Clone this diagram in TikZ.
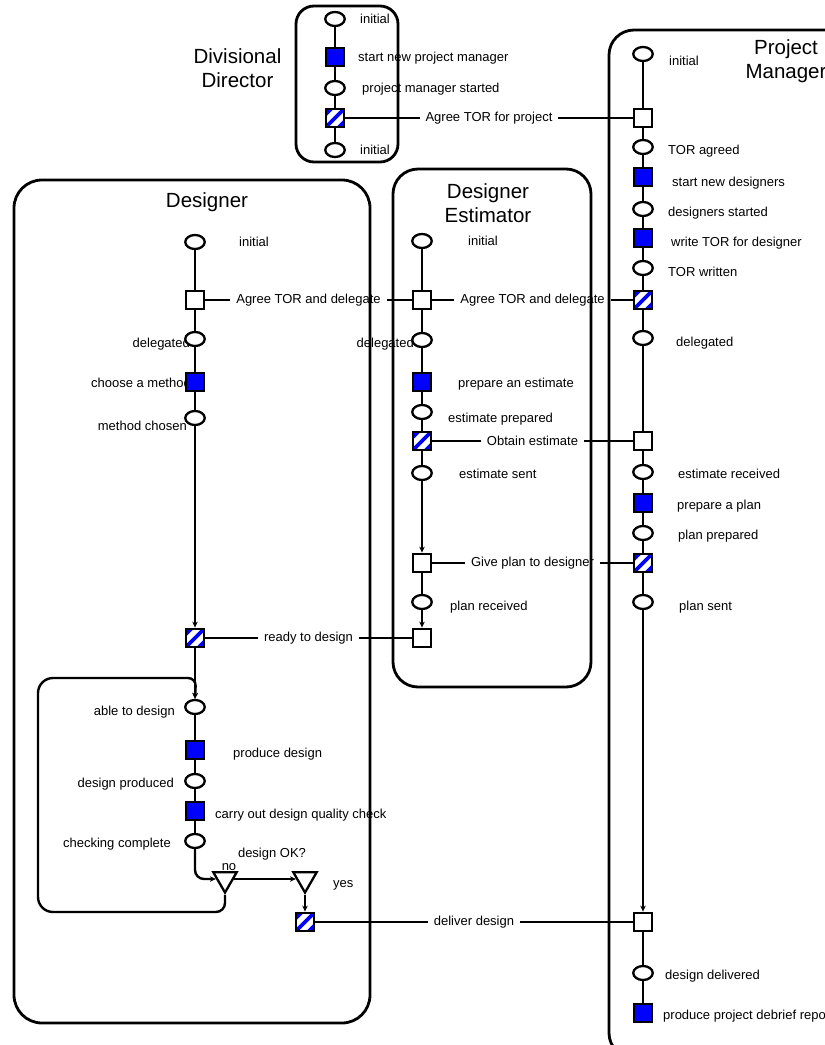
\documentclass[tikz,border=0pt]{standalone}
\usepackage{fontspec}
\setmainfont{Liberation Sans}
\usetikzlibrary{arrows.meta,shapes.geometric}
\begin{document}
\begin{tikzpicture}[x=1pt,y=-1pt,
  conn/.style={line width=2.4pt},
  arr/.style={conn,-{Stealth[length=6pt,width=5.5pt]}},
  st/.style={ellipse, draw, line width=2.3pt, fill=white, minimum width=19.5pt, minimum height=14pt, inner sep=0pt},
  act/.style={rectangle, draw, line width=2.3pt, fill=blue, minimum size=18.5pt, inner sep=0pt},
  syn/.style={rectangle, draw, line width=2.3pt, fill=white, minimum size=18.5pt, inner sep=0pt},
  hat/.style={syn, path picture={
     \foreach \o in {-13,0,13}
       \draw[blue, line width=3.8pt] ([xshift=\o pt]path picture bounding box.south west) -- ([xshift=\o pt]path picture bounding box.north east);}},
  tri/.style={regular polygon, regular polygon sides=3, shape border rotate=180, draw, line width=2.3pt, fill=white, minimum size=27pt, inner sep=0pt},
  lbl/.style={font=\fontsize{13}{15}\selectfont, inner sep=0pt},
  clbl/.style={font=\fontsize{13}{15}\selectfont, fill=white, inner xsep=6pt, inner ysep=1pt},
  ttl/.style={font=\fontsize{20.5}{23.5}\selectfont, align=center},
  lane/.style={draw, line width=2.8pt, rounded corners=25pt}]
\useasboundingbox (0,0) rectangle (825,1045);
\clip (0,0) rectangle (825,1045);
\fill[white] (0,0) rectangle (825,1045);

% ---------- state / action labels ----------
% Divisional Director
\node[lbl, anchor=base west] (tdd1) at (360,23) {initial};
\node[lbl, anchor=base west] (tdd2) at (358,61) {start new project manager};
\node[lbl, anchor=base west] (tdd3) at (362,92) {project manager started};
\node[lbl, anchor=base west] (tdd5) at (360,154) {initial};
% Project Manager
\node[lbl, anchor=base west] (tpm1) at (669,65) {initial};
\node[lbl, anchor=base west] (tpm3) at (668,154) {TOR agreed};
\node[lbl, anchor=base west] (tpm4) at (672,186) {start new designers};
\node[lbl, anchor=base west] (tpm5) at (668,216) {designers started};
\node[lbl, anchor=base west] (tpm6) at (671,246) {write TOR for designer};
\node[lbl, anchor=base west] (tpm7) at (668,276) {TOR written};
\node[lbl, anchor=base west] (tpm9) at (676,346) {delegated};
\node[lbl, anchor=base west] (tpm11) at (678,478) {estimate received};
\node[lbl, anchor=base west] (tpm12) at (677,509) {prepare a plan};
\node[lbl, anchor=base west] (tpm13) at (678,539) {plan prepared};
\node[lbl, anchor=base west] (tpm15) at (679,610) {plan sent};
\node[lbl, anchor=base west] (tpm17) at (665,979) {design delivered};
\node[lbl, anchor=base west] (tpm18) at (663,1019) {produce project debrief report};
% Designer Estimator
\node[lbl, anchor=base west] (tde1) at (468,245) {initial};
\node[lbl, anchor=base east] (tde3) at (414,347) {delegated};
\node[lbl, anchor=base west] (tde4) at (458,387) {prepare an estimate};
\node[lbl, anchor=base west] (tde5) at (448,422) {estimate prepared};
\node[lbl, anchor=base west] (tde7) at (459,478) {estimate sent};
\node[lbl, anchor=base west] (tde9) at (450,610) {plan received};
% Designer
\node[lbl, anchor=base west] (td1) at (239,246) {initial};
\node[lbl, anchor=base east] (td3) at (190,347) {delegated};
\node[lbl, anchor=base east] (td4) at (191,387) {choose a method};
\node[lbl, anchor=base east] (td5) at (187,430) {method chosen};
\node[lbl, anchor=base east] (td7) at (175,715) {able to design};
\node[lbl, anchor=base west] (td8) at (233,757) {produce design};
\node[lbl, anchor=base east] (td9) at (174,787) {design produced};
\node[lbl, anchor=base west] (td10) at (215,818) {carry out design quality check};
\node[lbl, anchor=base east] (td11) at (171,847) {checking complete};
\node[lbl, anchor=base] (tno) at (229,870) {no};
\node[lbl, anchor=base] (tok) at (272,857) {design OK?};
\node[lbl, anchor=base west] (tyes) at (333,887) {yes};

% ---------- nodes ----------
% Divisional Director
\node[st]  (dd1) at (335,19) {};
\node[act] (dd2) at (335,57) {};
\node[st]  (dd3) at (335,88) {};
\node[hat] (dd4) at (335,118) {};
\node[st]  (dd5) at (335,150) {};
% Project Manager
\node[st]  (pm1) at (643,54) {};
\node[syn] (pm2) at (643,118) {};
\node[st]  (pm3) at (643,147) {};
\node[act] (pm4) at (643,177) {};
\node[st]  (pm5) at (643,209) {};
\node[act] (pm6) at (643,238) {};
\node[st]  (pm7) at (643,268) {};
\node[hat] (pm8) at (643,300) {};
\node[st]  (pm9) at (643,338) {};
\node[syn] (pm10) at (643,441) {};
\node[st]  (pm11) at (643,472) {};
\node[act] (pm12) at (643,503) {};
\node[st]  (pm13) at (643,533) {};
\node[hat] (pm14) at (643,563) {};
\node[st]  (pm15) at (643,602) {};
\node[syn] (pm16) at (643,922) {};
\node[st]  (pm17) at (643,973) {};
\node[act] (pm18) at (643,1013) {};
% Designer Estimator
\node[st]  (de1) at (422,241) {};
\node[syn] (de2) at (422,300) {};
\node[st]  (de3) at (422,340) {};
\node[act] (de4) at (422,382) {};
\node[st]  (de5) at (422,412) {};
\node[hat] (de6) at (422,441) {};
\node[st]  (de7) at (422,473) {};
\node[syn] (de8) at (422,563) {};
\node[st]  (de9) at (422,602) {};
\node[syn] (de10) at (422,638) {};
% Designer
\node[st]  (d1) at (195,242) {};
\node[syn] (d2) at (195,300) {};
\node[st]  (d3) at (195,339) {};
\node[act] (d4) at (195,382) {};
\node[st]  (d5) at (195,418) {};
\node[hat] (d6) at (195,638) {};
\node[st]  (d7) at (195,707) {};
\node[act] (d8) at (195,750) {};
\node[st]  (d9) at (195,781) {};
\node[act] (d10) at (195,811) {};
\node[st]  (d11) at (195,841) {};
\node[tri] (no) at (225,879) {};
\node[tri] (yes) at (305,879) {};
\node[hat] (d12) at (305,922) {};

% ---------- connectors ----------
\draw[conn] (dd1) -- (dd2); \draw[conn] (dd2) -- (dd3);
\draw[conn] (dd3) -- (dd4); \draw[conn] (dd4) -- (dd5);
\draw[conn] (pm1) -- (pm2); \draw[conn] (pm2) -- (pm3);
\draw[conn] (pm3) -- (pm4); \draw[conn] (pm4) -- (pm5);
\draw[conn] (pm5) -- (pm6); \draw[conn] (pm6) -- (pm7);
\draw[conn] (pm7) -- (pm8); \draw[conn] (pm8) -- (pm9);
\draw[conn] (pm9) -- (pm10); \draw[conn] (pm10) -- (pm11);
\draw[conn] (pm11) -- (pm12); \draw[conn] (pm12) -- (pm13);
\draw[conn] (pm13) -- (pm14); \draw[conn] (pm14) -- (pm15);
\draw[arr] (pm15) -- (pm16);
\draw[conn] (pm16) -- (pm17); \draw[conn] (pm17) -- (pm18);
\draw[conn] (de1) -- (de2); \draw[conn] (de2) -- (de3);
\draw[conn] (de3) -- (de4); \draw[conn] (de4) -- (de5);
\draw[conn] (de5) -- (de6); \draw[conn] (de6) -- (de7);
\draw[arr] (de7) -- (de8);
\draw[conn] (de8) -- (de9);
\draw[arr] (de9) -- (de10);
\draw[conn] (d1) -- (d2); \draw[conn] (d2) -- (d3);
\draw[conn] (d3) -- (d4); \draw[conn] (d4) -- (d5);
\draw[arr] (d5) -- (d6);
\draw[arr] (d6) -- (d7);
\draw[conn] (d7) -- (d8); \draw[conn] (d8) -- (d9);
\draw[conn] (d9) -- (d10); \draw[conn] (d10) -- (d11);
\draw[arr, rounded corners=9pt] (d11.south) |- (no.west);
\draw[arr] (no.east) -- (yes.west);
\draw[arr] (yes.south) -- (d12.north);
\draw[arr, rounded corners=9pt] (no.south) -- (225,912) [rounded corners=15pt] -- (38,912) -- (38,678) [rounded corners=8pt] -- (196,678) -- (d7.north);

% horizontal interactions
\draw[conn] (dd4) -- node[clbl] (cl1) {Agree TOR for project} (pm2);
\draw[conn] (d2) -- node[clbl] (cl2) {Agree TOR and delegate} (de2);
\draw[conn] (de2) -- node[clbl] (cl3) {Agree TOR and delegate} (pm8);
\draw[conn] (de6) -- node[clbl] (cl4) {Obtain estimate} (pm10);
\draw[conn] (de8) -- node[clbl] (cl5) {Give plan to designer} (pm14);
\draw[conn] (d6) -- node[clbl] (cl6) {ready to design} (de10);
\draw[conn] (d12) -- node[clbl] (cl7) {deliver design} (pm16);

% ---------- swimlanes ----------
\draw[lane, rounded corners=18pt] (296,6) rectangle (398,162);
\draw[lane] (609,30) rectangle (870,1058);
\draw[lane] (393,169) rectangle (591,687);
\draw[lane, rounded corners=28pt] (14,180) rectangle (370,1023);

\node[ttl] (tDD) at (237.5,68) {Divisional\\Director};
\node[ttl] (tPM) at (786,61) {Project\\Manager};
\node[ttl] (tDE) at (488,203) {Designer\\Estimator};
\node[ttl] (tD) at (207,202) {Designer};
\end{tikzpicture}
\end{document}
